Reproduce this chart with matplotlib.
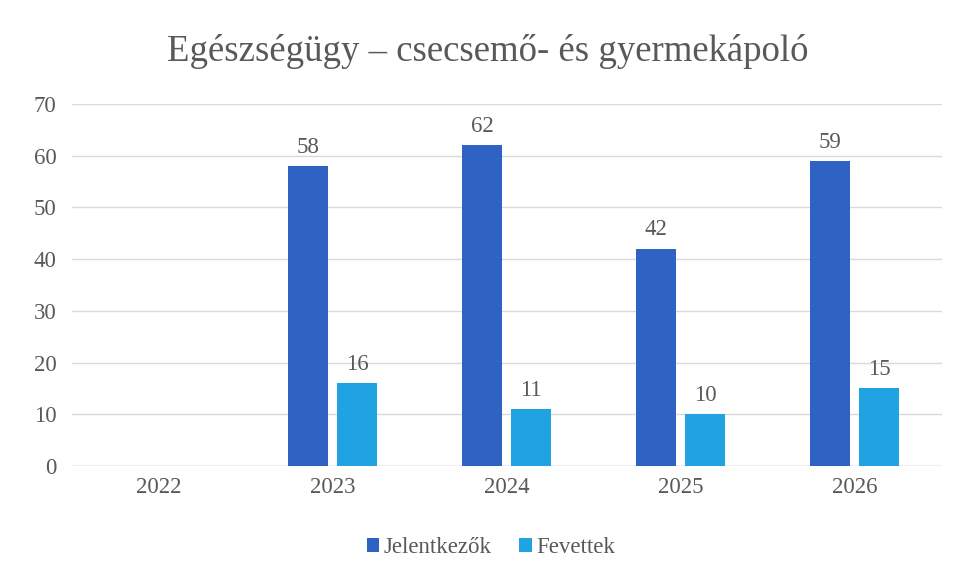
import numpy as np
import matplotlib.pyplot as plt

years = ["2022", "2023", "2024", "2025", "2026"]
jelentkezok = [np.nan, 58, 62, 42, 59]
fevettek = [np.nan, 16, 11, 10, 15]

plt.rcParams['font.family'] = ['Liberation Serif', 'DejaVu Serif']
text_col = "#595959"

fig = plt.figure(figsize=(9.57, 5.81), dpi=100)
ax = fig.add_axes([0.075, 0.198, 0.909, 0.623])

x = np.arange(len(years))
w = 0.23
b1 = ax.bar(x - 0.14, jelentkezok, w, color="#2F62C2", label="Jelentkezők", zorder=3)
b2 = ax.bar(x + 0.14, fevettek, w, color="#1FA3E3", label="Fevettek", zorder=3)

for bars, vals in ((b1, jelentkezok), (b2, fevettek)):
    for rect, v in zip(bars, vals):
        if np.isnan(v):
            continue
        ax.annotate(f"{v:.0f}", (rect.get_x() + rect.get_width() / 2, v),
                    xytext=(0, 6), textcoords="offset points",
                    ha="center", va="bottom", fontsize=16.5, color=text_col)

ax.set_xlim(-0.5, len(years) - 0.5)
ax.set_ylim(0, 70)
ax.set_yticks(range(0, 71, 10))
ax.set_xticks(x)
ax.set_xticklabels(years)
ax.tick_params(axis="both", length=0, labelsize=16.5, labelcolor=text_col)
ax.tick_params(axis="y", pad=11)
ax.tick_params(axis="x", pad=8)
ax.grid(axis="y", color="#D9D9D9", linewidth=1, zorder=0)
ax.axhline(0, color="#C8C8C8", linewidth=1, zorder=1)
for s in ax.spines.values():
    s.set_visible(False)

fig.text(0.51, 0.912, "Egészségügy – csecsemő- és gyermekápoló",
         ha="center", va="center", fontsize=26.5, color=text_col)

fig.legend(handles=[b1, b2], loc="center", bbox_to_anchor=(0.513, 0.058), ncol=2,
           frameon=False, fontsize=16.5, labelcolor=text_col,
           handlelength=0.55, handleheight=0.55, handletextpad=0.2, columnspacing=1.2)

fig.savefig("out.png", dpi=100)
